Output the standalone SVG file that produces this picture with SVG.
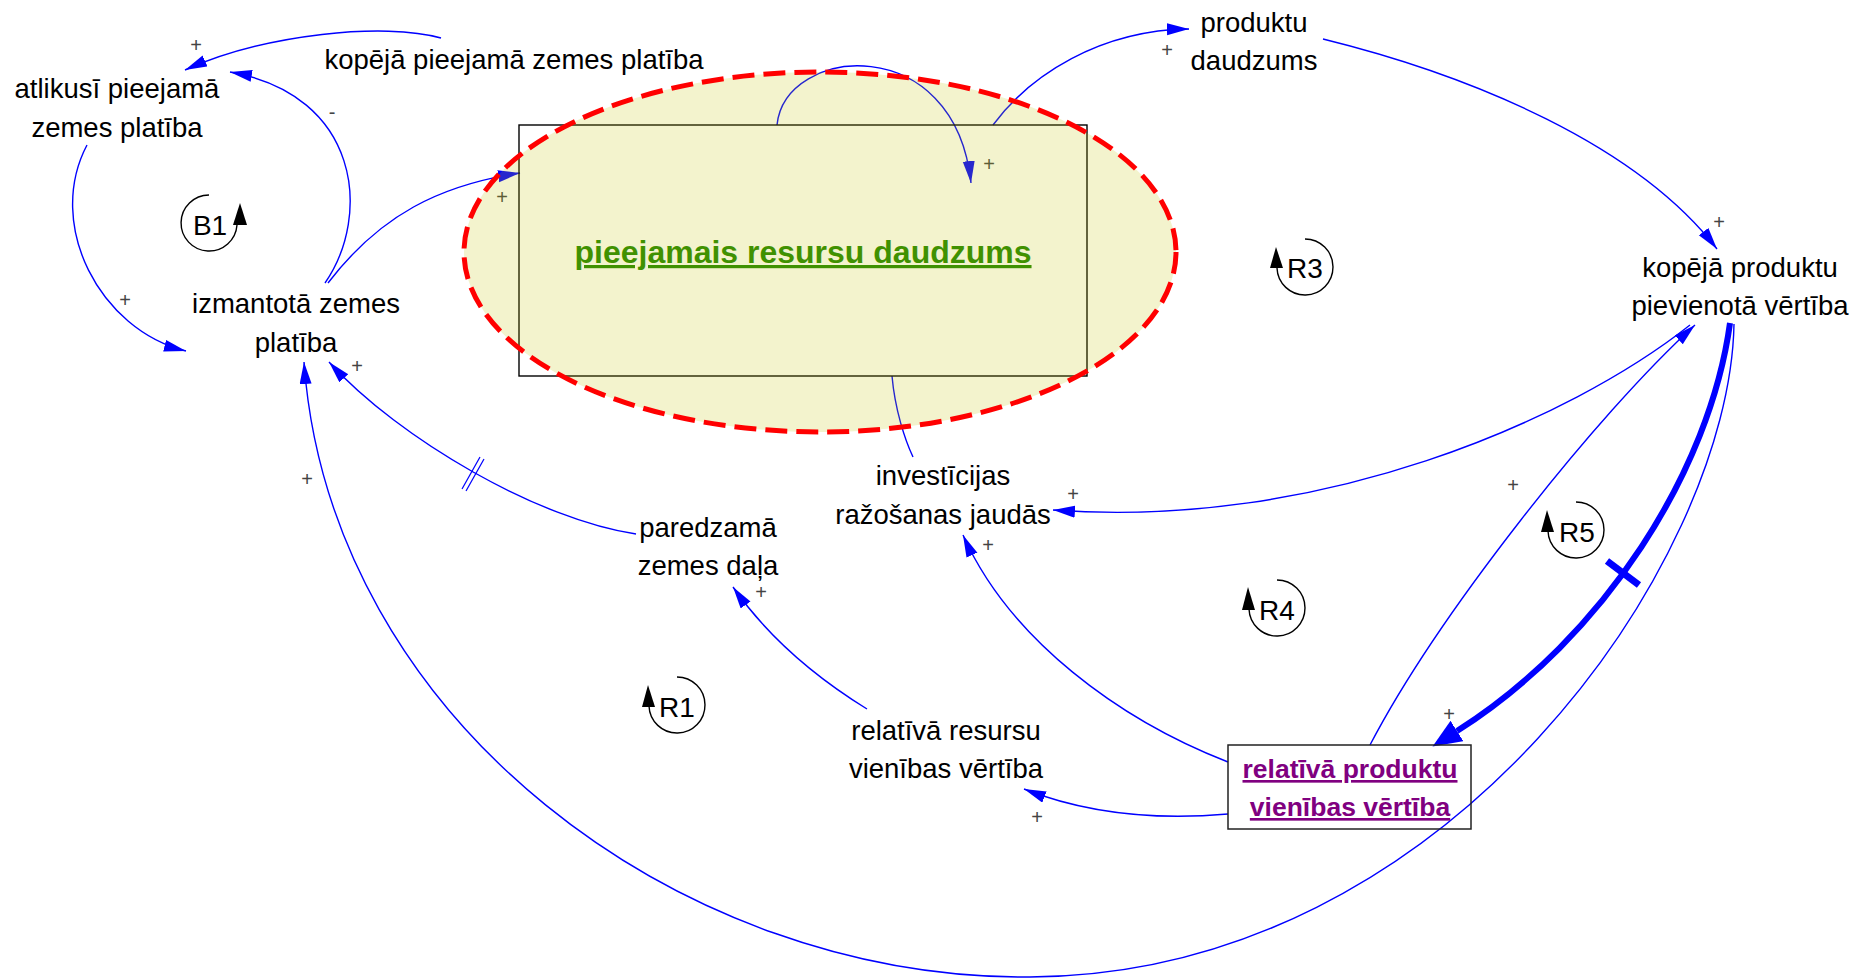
<svg xmlns="http://www.w3.org/2000/svg" width="1856" height="980" viewBox="0 0 1856 980">
<defs>
<style>
.lbl{font-family:"Liberation Sans",Arial,sans-serif;font-size:27.5px;fill:#000;text-anchor:middle}
.pol{font-family:"Liberation Sans",Arial,sans-serif;font-size:20px;fill:#444;text-anchor:middle}
.loop{font-family:"Liberation Sans",Arial,sans-serif;font-size:28px;fill:#000;text-anchor:middle}
.lk{fill:none;stroke:#0000FF;stroke-width:1.4}
.lka{fill:none;stroke:#0000FF;stroke-width:1.4;marker-end:url(#ah)}
.arc{fill:none;stroke:#000;stroke-width:1.4}
</style>
<marker id="ah" markerUnits="userSpaceOnUse" markerWidth="24" markerHeight="14" refX="22" refY="6" orient="auto">
<path d="M0,0 L22,6 L0,12 z" fill="#0000FF"/>
</marker>
<marker id="ahT" markerUnits="userSpaceOnUse" markerWidth="32" markerHeight="26" refX="0" refY="12" orient="auto">
<path d="M0,0 L29,12 L0,24 z" fill="#0000FF"/>
</marker>
</defs>
<rect width="1856" height="980" fill="#fff"/>

<g id="connectors">
<path class="lka" d="M441,38 C385,22 265,34 185,70"/>
<path class="lka" d="M325,283 C372,215 360,95 230,72"/>
<path class="lka" d="M87,145 C45,225 100,330 186,351"/>
<path class="lka" d="M328,283 C380,215 440,185 520,173"/>
<path class="lka" d="M777,125 C785,45 955,30 971,183"/>
<path class="lka" d="M993,125 C1030,75 1100,30 1189,29"/>
<path class="lka" d="M1323,39 C1473,76 1637,145 1717,249"/>
<path class="lk" d="M892,376 C895,410 905,440 913,457"/>
<path class="lka" d="M1690,325 C1570,420 1320,530 1053,510"/>
<path class="lka" d="M1370,745 C1438,615 1596,415 1695,325"/>
<path fill="none" stroke="#0000FF" stroke-width="6" marker-end="url(#ahT)" d="M1730,323 C1710,470 1605,637 1457,731"/>
<line x1="1607" y1="561" x2="1639" y2="585" stroke="#0000FF" stroke-width="7"/>
<path class="lka" d="M1734,324 C1730,560 1450,975 1030,977 C680,980 330,720 304,362"/>
<path class="lka" d="M636,534 C540,520 400,440 329,362"/>
<line x1="462" y1="489" x2="480" y2="457" stroke="#0000FF" stroke-width="1.2"/>
<line x1="466" y1="491" x2="484" y2="459" stroke="#0000FF" stroke-width="1.2"/>
<path class="lka" d="M867,709 C820,680 770,640 733,587"/>
<path class="lka" d="M1228,762 C1120,720 1010,640 963,535"/>
<path class="lka" d="M1228,814 C1160,820 1090,815 1024,789"/>

<text class="pol" x="196" y="52">+</text>
<text class="pol" x="332" y="119">-</text>
<text class="pol" x="125" y="307">+</text>
<text class="pol" x="502" y="204">+</text>
<text class="pol" x="989" y="171">+</text>
<text class="pol" x="1167" y="57">+</text>
<text class="pol" x="1719" y="229">+</text>
<text class="pol" x="1073" y="501">+</text>
<text class="pol" x="988" y="552">+</text>
<text class="pol" x="761" y="599">+</text>
<text class="pol" x="357" y="373">+</text>
<text class="pol" x="307" y="486">+</text>
<text class="pol" x="1037" y="824">+</text>
<text class="pol" x="1513" y="492">+</text>
<text class="pol" x="1449" y="721">+</text>
</g>

<g id="node-kopeja-pieejama">
<text class="lbl" x="514" y="69">kopējā pieejamā zemes platība</text>
</g>
<g id="node-atlikusi">
<text class="lbl" x="117" y="98">atlikusī pieejamā</text>
<text class="lbl" x="117" y="137">zemes platība</text>
</g>
<g id="node-izmantota">
<text class="lbl" x="296" y="313">izmantotā zemes</text>
<text class="lbl" x="296" y="352">platība</text>
</g>
<g id="node-resursi">
<rect x="519" y="125" width="568" height="251" fill="none" stroke="#000" stroke-width="1.4"/>
<text x="803" y="263" font-family="Liberation Sans, Arial, sans-serif" font-size="32" font-weight="bold" fill="#1f8500" text-anchor="middle" text-decoration="underline">pieejamais resursu daudzums</text>
</g>
<g id="node-produktu-daudzums">
<text class="lbl" x="1254" y="32">produktu</text>
<text class="lbl" x="1254" y="70">daudzums</text>
</g>
<g id="node-kopeja-produktu">
<text class="lbl" x="1740" y="277">kopējā produktu</text>
<text class="lbl" x="1740" y="315">pievienotā vērtība</text>
</g>
<g id="node-investicijas">
<text class="lbl" x="943" y="485">investīcijas</text>
<text class="lbl" x="943" y="524">ražošanas jaudās</text>
</g>
<g id="node-paredzama">
<text class="lbl" x="708" y="537">paredzamā</text>
<text class="lbl" x="708" y="575">zemes daļa</text>
</g>
<g id="node-relativa-resursu">
<text class="lbl" x="946" y="740">relatīvā resursu</text>
<text class="lbl" x="946" y="778">vienības vērtība</text>
</g>
<g id="node-relativa-produktu">
<rect x="1228" y="745" width="243" height="84" fill="none" stroke="#222" stroke-width="1.5"/>
<text x="1350" y="778" font-family="Liberation Sans, Arial, sans-serif" font-size="26.5" font-weight="bold" fill="#800080" text-anchor="middle" text-decoration="underline">relatīvā produktu</text>
<text x="1350" y="816" font-family="Liberation Sans, Arial, sans-serif" font-size="26.5" font-weight="bold" fill="#800080" text-anchor="middle" text-decoration="underline">vienības vērtība</text>
</g>

<g id="loop-B1">
<path class="arc" d="M209,195 A28,28 0 1 0 237,225"/>
<polygon points="240,203 233,225 247,225" fill="#000"/>
<text class="loop" x="210" y="235">B1</text>
</g>
<g id="loop-R3">
<path class="arc" d="M1305,239 A28,28 0 1 1 1277,268"/>
<polygon points="1276,247 1270,268 1283,268" fill="#000"/>
<text class="loop" x="1305" y="278">R3</text>
</g>
<g id="loop-R5">
<path class="arc" d="M1576,502 A28,28 0 1 1 1548,531"/>
<polygon points="1547,510 1541,532 1554,532" fill="#000"/>
<text class="loop" x="1577" y="542">R5</text>
</g>
<g id="loop-R4">
<path class="arc" d="M1277,580 A28,28 0 1 1 1249,609"/>
<polygon points="1248,587 1242,610 1255,610" fill="#000"/>
<text class="loop" x="1277" y="620">R4</text>
</g>
<g id="loop-R1">
<path class="arc" d="M677,677 A28,28 0 1 1 649,706"/>
<polygon points="648,685 642,707 655,707" fill="#000"/>
<text class="loop" x="677" y="717">R1</text>
</g>

<g id="highlight">
<ellipse cx="820" cy="252" rx="356" ry="180" fill="rgb(195,195,5)" fill-opacity="0.2" stroke="#FF0000" stroke-width="5" stroke-dasharray="22 9"/>
</g>
</svg>
